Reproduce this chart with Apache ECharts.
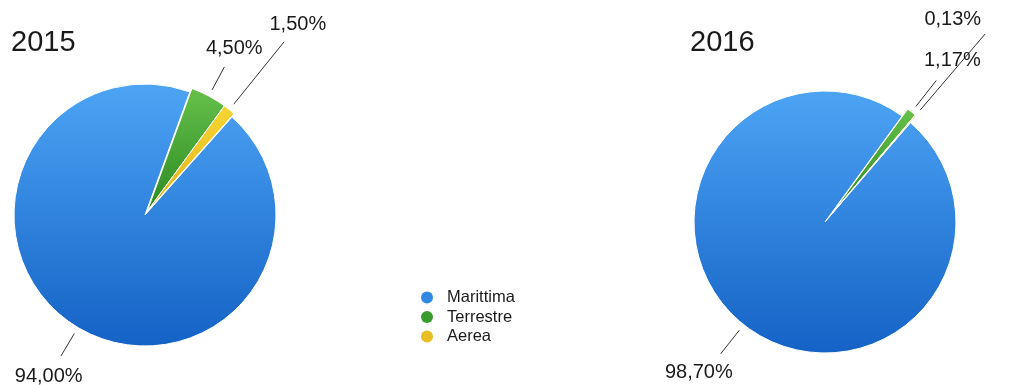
<!DOCTYPE html>
<html>
<head>
<meta charset="utf-8">
<script src="https://cdn.jsdelivr.net/npm/echarts@6/dist/echarts.min.js"></script>
<style>
html,body{margin:0;padding:0;background:#fff;}
#main{width:1031px;height:385px;}
</style>
</head>
<body>
<div id="main"></div>
<script>
// ---- data ----
const categories = ['Marittima', 'Terrestre', 'Aerea'];
const values2015 = [94.00, 4.50, 1.50];
const values2016 = [98.70, 1.17, 0.13];
const years = ['2015', '2016'];

// ---- styling helpers (not data) ----
const FONT = '"Liberation Sans", Arial, Helvetica, sans-serif';
function grad(top, bottom) {
  return new echarts.graphic.LinearGradient(0, 0, 0, 1, [
    { offset: 0, color: top },
    { offset: 1, color: bottom }
  ]);
}
const colors = [
  grad('#4da4f4', '#1462c6'),
  grad('#66c04a', '#2a8a22'),
  grad('#f6d634', '#deb416')
];
const legendColors = ['#2f88e4', '#3a9c2e', '#e8be22'];
const lineLens = [[33, 33, 87], [37, 40, 107]];
const textDist = [[24, 21, 22], [24, 26, 24]];
const labelShift = [[[0, 0], [0, 0], [0, 0]], [[-7, 0], [0, 0], [-48, 4]]];
const GAP = 7;

const layouts = [
  { center: [145, 215], radius: 131, startAngle: 48.4, explode: [2.1, -3.4] },
  { center: [825, 222], radius: 131, startAngle: 49.3, explode: [5.7, -7.0] }
];

function fmt(v) {
  return v.toFixed(2).replace('.', ',') + '%';
}

function labelLayoutFor(si) {
  return function (params) {
    const pts = params.labelLinePoints;
    if (!pts) return {};
    const p0 = pts[0], p1 = pts[1];
    const dx = p1[0] - p0[0], dy = p1[1] - p0[1];
    const L = Math.sqrt(dx * dx + dy * dy) || 1;
    const ux = dx / L, uy = dy / L;
    const start = [p0[0] + ux * GAP, p0[1] + uy * GAP];
    const end = [p1[0], p1[1]];
    const sh = labelShift[si][params.dataIndex];
    const d = textDist[si][params.dataIndex];
    return {
      x: end[0] + ux * d + sh[0],
      y: end[1] + uy * d + sh[1],
      align: 'center',
      verticalAlign: 'middle',
      labelLinePoints: [start, end, end]
    };
  };
}

// part 0: the main (unexploded) slice; part 1: the exploded small slices
function makeSeries(vals, si, part) {
  const lay = layouts[si];
  const center = part === 0 ? lay.center
    : [lay.center[0] + lay.explode[0], lay.center[1] + lay.explode[1]];
  const data = categories.map((c, i) => {
    const visible = part === 0 ? i === 0 : i > 0;
    return {
      name: c,
      value: vals[i],
      itemStyle: visible
        ? { color: colors[i], borderColor: '#ffffff', borderWidth: 1 }
        : { color: 'rgba(0,0,0,0)', borderWidth: 0 },
      label: { show: visible },
      labelLine: { show: visible, length: lineLens[si][i], length2: 0 }
    };
  });
  return {
    type: 'pie',
    name: years[si],
    center: center,
    radius: lay.radius,
    startAngle: lay.startAngle,
    clockwise: true,
    avoidLabelOverlap: false,
    animation: false,
    silent: true,
    emphasis: { disabled: true },
    label: {
      position: 'outside',
      formatter: p => fmt(p.value),
      fontFamily: FONT,
      fontSize: 20,
      color: '#1a1a1a'
    },
    labelLine: {
      smooth: false,
      lineStyle: { color: '#333333', width: 1 }
    },
    labelLayout: labelLayoutFor(si),
    data: data
  };
}

const chart = echarts.init(document.getElementById('main'), null, { renderer: 'canvas' });
chart.setOption({
  backgroundColor: '#ffffff',
  animation: false,
  title: [
    { text: years[0], left: 11, top: 28, padding: 0,
      textStyle: { fontFamily: FONT, fontSize: 29, fontWeight: 'normal', color: '#1a1a1a' } },
    { text: years[1], left: 690, top: 28, padding: 0,
      textStyle: { fontFamily: FONT, fontSize: 29, fontWeight: 'normal', color: '#1a1a1a' } }
  ],
  legend: {
    orient: 'vertical',
    left: 421,
    top: 289,
    padding: 0,
    icon: 'circle',
    itemWidth: 24,
    itemHeight: 12,
    itemGap: 2.5,
    selectedMode: false,
    itemStyle: { borderWidth: 0 },
    data: categories.map((c, i) => ({
      name: c,
      itemStyle: { color: legendColors[i], borderWidth: 0, borderColor: 'rgba(0,0,0,0)' }
    })),
    textStyle: { fontFamily: FONT, fontSize: 16.5, lineHeight: 16, color: '#1a1a1a', padding: [0, 0, 0, 3] }
  },
  series: [
    makeSeries(values2015, 0, 0),
    makeSeries(values2015, 0, 1),
    makeSeries(values2016, 1, 0),
    makeSeries(values2016, 1, 1)
  ]
});
</script>
</body>
</html>
